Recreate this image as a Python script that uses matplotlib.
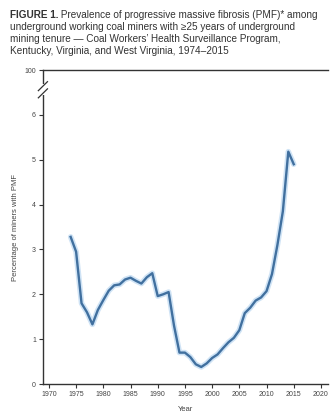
import matplotlib
matplotlib.use("Agg")
import matplotlib.pyplot as plt
from matplotlib.lines import Line2D
from matplotlib.patches import Rectangle

plt.rcParams['font.family'] = ['Liberation Sans', 'DejaVu Sans']

# Annual PMF prevalence among long-tenure underground miners
years = list(range(1974, 2016))
prevalence = [3.28, 2.95, 1.80, 1.60, 1.33, 1.65, 1.87, 2.08, 2.20, 2.22,
              2.33, 2.37, 2.30, 2.24, 2.38, 2.47, 1.96, 2.00, 2.05, 1.30,
              0.70, 0.70, 0.60, 0.44, 0.38, 0.46, 0.58, 0.66, 0.80, 0.93,
              1.03, 1.20, 1.58, 1.70, 1.86, 1.93, 2.07, 2.45, 3.10, 3.85,
              5.18, 4.90]

x_ticks = list(range(1970, 2021, 5))
y_ticks = [0, 1, 2, 3, 4, 5, 6, 7]
y_tick_labels = ["0", "1", "2", "3", "4", "5", "6", "100"]

title_lines = [
    "Prevalence of progressive massive fibrosis (PMF)* among",
    "underground working coal miners with \u226525 years of underground",
    "mining tenure \u2014 Coal Workers\u2019 Health Surveillance Program,",
    "Kentucky, Virginia, and West Virginia, 1974\u20132015",
]

fig = plt.figure(figsize=(3.30, 4.18), dpi=100)
ax = fig.add_axes([0.130, 0.0813, 0.864, 0.7512])

line_color = "#41709f"
ax.plot(years, prevalence, color="#cfe3f5", lw=4.0, solid_capstyle="round",
        solid_joinstyle="round", zorder=2)
ax.plot(years, prevalence, color=line_color, lw=1.7, solid_joinstyle="round",
        zorder=3)

ax.set_xlim(1968.9, 2021.3)
ax.set_ylim(0, 7)
ax.set_xticks(x_ticks)
ax.set_xticklabels([str(x) for x in x_ticks])
ax.set_yticks(y_ticks)
ax.set_yticklabels(y_tick_labels)

ax.spines["right"].set_visible(False)
for side in ("left", "bottom", "top"):
    ax.spines[side].set_color("#333333")
    ax.spines[side].set_linewidth(1.0)

ax.tick_params(axis="both", labelsize=5, length=3, width=0.8,
               color="#333333", labelcolor="#444444", pad=2)

ax.set_xlabel("Year", fontsize=5.5, color="#444444", labelpad=6)
ax.set_ylabel("Percentage of miners with PMF", fontsize=5.5, color="#444444",
              labelpad=4)

# axis break between 6 and 100
yb = 6.56
ax.add_patch(Rectangle((-0.02, (yb - 0.12) / 7), 0.04, 0.24 / 7,
                       transform=ax.transAxes, facecolor="white",
                       edgecolor="none", clip_on=False, zorder=5))
for dy in (-0.08, 0.08):
    ax.add_line(Line2D([-0.016, 0.016],
                       [(yb + dy - 0.1) / 7, (yb + dy + 0.1) / 7],
                       transform=ax.transAxes, color="#333333", lw=0.9,
                       clip_on=False, zorder=6))

# title block
fs = 7.2
title_color = "#333333"
t0 = fig.text(10 / 330, 1 - 15 / 418, "FIGURE 1.", fontsize=fs,
              fontweight="bold", color=title_color, va="center", ha="left")
ax.annotate(" " + title_lines[0], xy=(1, 0.5), xycoords=t0, va="center",
            ha="left", fontsize=fs, color=title_color, annotation_clip=False)
for i, txt in enumerate(title_lines[1:], start=1):
    fig.text(10 / 330, 1 - (15 + 12 * i) / 418, txt, fontsize=fs,
             color=title_color, va="center", ha="left")

fig.savefig("out.png", dpi=100)
